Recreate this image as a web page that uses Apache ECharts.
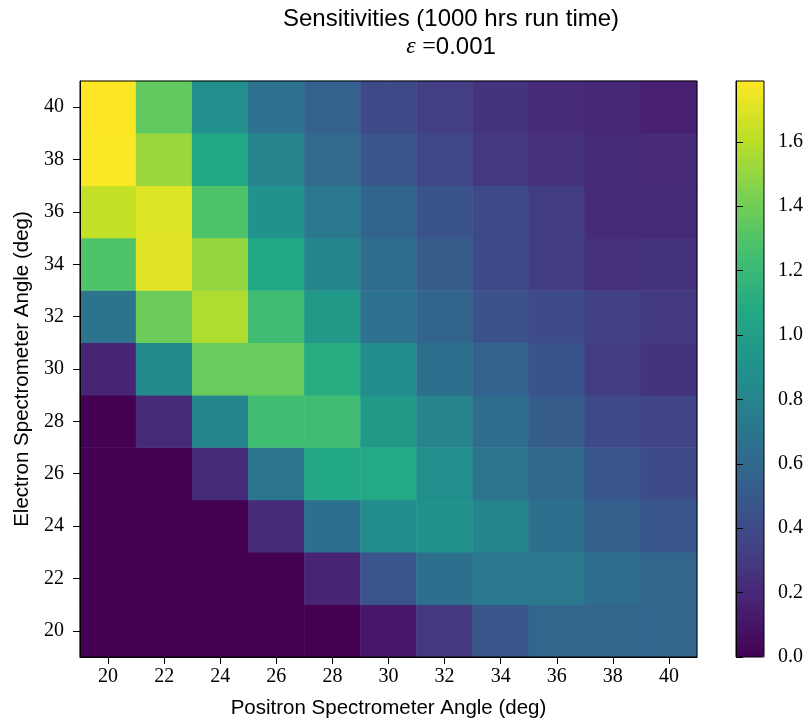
<!DOCTYPE html>
<html>
<head>
<meta charset="utf-8">
<script src="https://cdn.jsdelivr.net/npm/echarts@6/dist/echarts.min.js"></script>
<style>html,body{margin:0;padding:0;background:#fff;}#chart{width:809px;height:727px;}</style>
</head>
<body>
<div id="chart"></div>
<script>
// Categories (deg)
const positronAngles = ['20','22','24','26','28','30','32','34','36','38','40'];
const electronAngles = ['20','22','24','26','28','30','32','34','36','38','40'];
// Sensitivity values per electron angle row, columns = positron angles 20..40
const row20 = [0.00, 0.00, 0.00, 0.00, 0.00, 0.12, 0.29, 0.48, 0.59, 0.59, 0.59];
const row22 = [0.00, 0.00, 0.00, 0.00, 0.18, 0.47, 0.66, 0.72, 0.72, 0.64, 0.59];
const row24 = [0.00, 0.00, 0.00, 0.22, 0.66, 0.86, 0.90, 0.81, 0.66, 0.54, 0.48];
const row26 = [0.00, 0.00, 0.22, 0.70, 1.07, 1.08, 0.89, 0.70, 0.60, 0.48, 0.41];
const row28 = [0.00, 0.22, 0.81, 1.23, 1.23, 0.96, 0.80, 0.64, 0.52, 0.40, 0.36];
const row30 = [0.18, 0.84, 1.37, 1.37, 1.10, 0.86, 0.66, 0.55, 0.46, 0.32, 0.27];
const row32 = [0.68, 1.38, 1.57, 1.23, 0.96, 0.67, 0.58, 0.45, 0.41, 0.34, 0.30];
const row34 = [1.29, 1.71, 1.50, 1.07, 0.81, 0.64, 0.52, 0.40, 0.32, 0.25, 0.26];
const row36 = [1.63, 1.70, 1.29, 0.90, 0.72, 0.58, 0.46, 0.40, 0.32, 0.22, 0.22];
const row38 = [1.78, 1.52, 1.07, 0.80, 0.62, 0.48, 0.38, 0.29, 0.25, 0.22, 0.21];
const row40 = [1.79, 1.35, 0.89, 0.67, 0.55, 0.40, 0.33, 0.26, 0.22, 0.20, 0.16];
const colorbarTicks = [0.0, 0.2, 0.4, 0.6, 0.8, 1.0, 1.2, 1.4, 1.6];
const colorMin = 0;
const colorMax = 1.789;

const rows = [row20, row22, row24, row26, row28, row30, row32, row34, row36, row38, row40];
const heatData = [];
rows.forEach((r, yi) => r.forEach((v, xi) => heatData.push([xi, yi, v])));

const viridis = ['#440154','#482475','#414487','#355f8d','#2a788e','#21918c','#22a884','#44bf70','#7ad151','#bddf26','#fde725'];
const serif = '"Liberation Serif","DejaVu Serif",serif';
const sans = '"Liberation Sans","DejaVu Sans",sans-serif';

const chart = echarts.init(document.getElementById('chart'), null, {renderer: 'canvas'});
chart.setOption({
  animation: false,
  backgroundColor: '#fff',
  title: {
    text: 'Sensitivities (1000 hrs run time)\n{e|ε} {m|=}0.001',
    left: 446, top: 0, textAlign: 'center',
    textStyle: {
      fontFamily: sans, fontSize: 24, fontWeight: 'normal', color: '#000', lineHeight: 28,
      rich: {
        e: {fontFamily: serif, fontStyle: 'italic', fontSize: 24, color: '#000', lineHeight: 28},
        m: {fontFamily: serif, fontSize: 24, color: '#000', lineHeight: 28}
      }
    }
  },
  grid: [
    {left: 80, top: 81, width: 617, height: 576, show: true, borderColor: '#000', borderWidth: 1, backgroundColor: 'transparent', z: 10},
    {left: 736, top: 81, width: 28, height: 576, show: true, borderColor: '#000', borderWidth: 1, backgroundColor: 'transparent', z: 10}
  ],
  xAxis: [
    {
      type: 'category', gridIndex: 0, data: positronAngles,
      name: 'Positron Spectrometer Angle (deg)', nameLocation: 'middle', nameGap: 41,
      nameTextStyle: {fontFamily: sans, fontSize: 20.5, color: '#000'},
      axisLine: {show: true, lineStyle: {color: '#000', width: 1}},
      axisTick: {show: true, alignWithLabel: true, length: 7, lineStyle: {color: '#000'}},
      axisLabel: {fontFamily: serif, fontSize: 20, color: '#000', margin: 10},
      splitLine: {show: false}, z: 10
    },
    {
      type: 'value', gridIndex: 1, min: 0, max: 1, show: false
    }
  ],
  yAxis: [
    {
      type: 'category', gridIndex: 0, data: electronAngles,
      name: 'Electron Spectrometer Angle (deg)', nameLocation: 'middle', nameGap: 47,
      nameTextStyle: {fontFamily: sans, fontSize: 20.5, color: '#000'},
      axisLine: {show: true, lineStyle: {color: '#000', width: 1}},
      axisTick: {show: true, alignWithLabel: true, length: 7, lineStyle: {color: '#000'}},
      axisLabel: {fontFamily: serif, fontSize: 20, color: '#000', margin: 16},
      splitLine: {show: false}, z: 10
    },
    {
      type: 'value', gridIndex: 1, position: 'right', min: colorMin, max: colorMax, interval: 0.2,
      axisLine: {show: true, lineStyle: {color: '#000'}},
      axisTick: {show: true, length: 7, lineStyle: {color: '#000'}, customValues: colorbarTicks},
      axisLabel: {fontFamily: serif, fontSize: 20, color: '#000', margin: 14,
        customValues: colorbarTicks, formatter: v => v.toFixed(1)},
      splitLine: {show: false}, z: 10
    }
  ],
  visualMap: {
    type: 'continuous', seriesIndex: 0, min: colorMin, max: colorMax,
    calculable: false, realtime: false, hoverLink: false,
    orient: 'vertical', left: 736, top: 81, itemWidth: 28, itemHeight: 576, padding: 0,
    text: null, showLabel: false,
    inRange: {color: viridis}
  },
  series: [{
    type: 'heatmap', xAxisIndex: 0, yAxisIndex: 0, data: heatData,
    itemStyle: {borderWidth: 0},
    emphasis: {disabled: true},
    progressive: 0
  }]
});
</script>
</body>
</html>
